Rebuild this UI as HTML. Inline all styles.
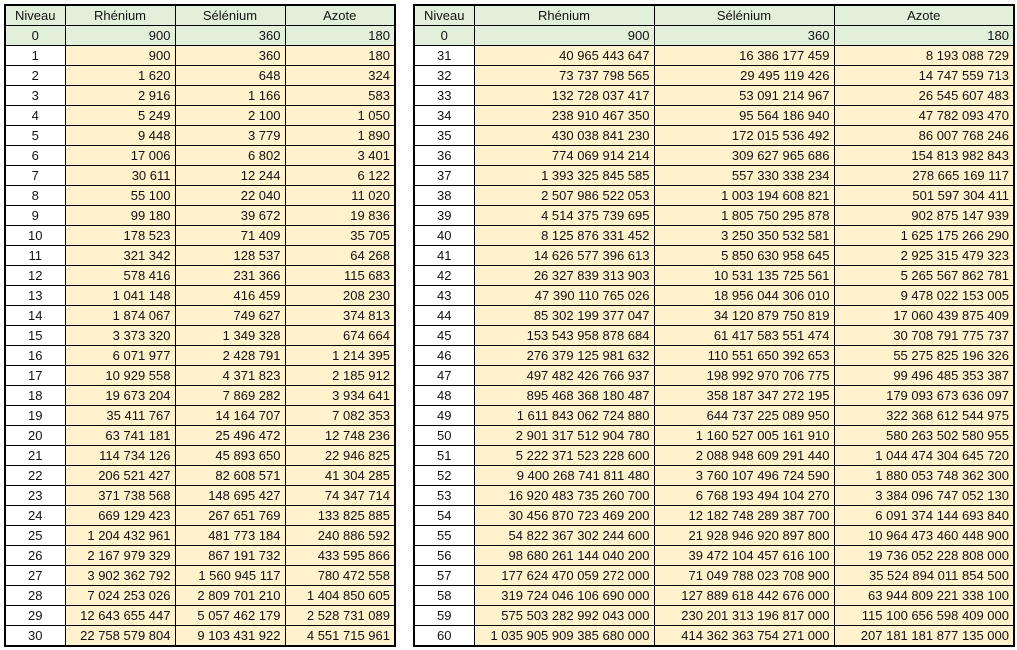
<!DOCTYPE html>
<html><head><meta charset="utf-8"><style>
body{margin:0;width:1017px;height:650px;background:#fff;position:relative;overflow:hidden;font-family:"Liberation Sans",sans-serif;font-size:13px;color:#111}
table{position:absolute;top:4px;border-collapse:collapse;table-layout:fixed;border:2px solid #000}
td{height:19px;padding:0 4px;border:1px solid #000;white-space:nowrap;text-align:right;background:#FFF2CC;line-height:19px;overflow:hidden}
td:first-child{text-align:center;background:#fff}
tr.h td{background:#E2EFDA;text-align:center}
tr.z td{background:#E2EFDA}
tr.z td:first-child{text-align:center}
</style></head><body>
<table style="left:4px;width:390px">
<colgroup><col style="width:60px"><col style="width:110px"><col style="width:110px"><col style="width:110px"></colgroup>
<tr class="h"><td>Niveau</td><td>Rhénium</td><td>Sélénium</td><td>Azote</td></tr>
<tr class="z"><td>0</td><td>900</td><td>360</td><td>180</td></tr>
<tr><td>1</td><td>900</td><td>360</td><td>180</td></tr>
<tr><td>2</td><td>1 620</td><td>648</td><td>324</td></tr>
<tr><td>3</td><td>2 916</td><td>1 166</td><td>583</td></tr>
<tr><td>4</td><td>5 249</td><td>2 100</td><td>1 050</td></tr>
<tr><td>5</td><td>9 448</td><td>3 779</td><td>1 890</td></tr>
<tr><td>6</td><td>17 006</td><td>6 802</td><td>3 401</td></tr>
<tr><td>7</td><td>30 611</td><td>12 244</td><td>6 122</td></tr>
<tr><td>8</td><td>55 100</td><td>22 040</td><td>11 020</td></tr>
<tr><td>9</td><td>99 180</td><td>39 672</td><td>19 836</td></tr>
<tr><td>10</td><td>178 523</td><td>71 409</td><td>35 705</td></tr>
<tr><td>11</td><td>321 342</td><td>128 537</td><td>64 268</td></tr>
<tr><td>12</td><td>578 416</td><td>231 366</td><td>115 683</td></tr>
<tr><td>13</td><td>1 041 148</td><td>416 459</td><td>208 230</td></tr>
<tr><td>14</td><td>1 874 067</td><td>749 627</td><td>374 813</td></tr>
<tr><td>15</td><td>3 373 320</td><td>1 349 328</td><td>674 664</td></tr>
<tr><td>16</td><td>6 071 977</td><td>2 428 791</td><td>1 214 395</td></tr>
<tr><td>17</td><td>10 929 558</td><td>4 371 823</td><td>2 185 912</td></tr>
<tr><td>18</td><td>19 673 204</td><td>7 869 282</td><td>3 934 641</td></tr>
<tr><td>19</td><td>35 411 767</td><td>14 164 707</td><td>7 082 353</td></tr>
<tr><td>20</td><td>63 741 181</td><td>25 496 472</td><td>12 748 236</td></tr>
<tr><td>21</td><td>114 734 126</td><td>45 893 650</td><td>22 946 825</td></tr>
<tr><td>22</td><td>206 521 427</td><td>82 608 571</td><td>41 304 285</td></tr>
<tr><td>23</td><td>371 738 568</td><td>148 695 427</td><td>74 347 714</td></tr>
<tr><td>24</td><td>669 129 423</td><td>267 651 769</td><td>133 825 885</td></tr>
<tr><td>25</td><td>1 204 432 961</td><td>481 773 184</td><td>240 886 592</td></tr>
<tr><td>26</td><td>2 167 979 329</td><td>867 191 732</td><td>433 595 866</td></tr>
<tr><td>27</td><td>3 902 362 792</td><td>1 560 945 117</td><td>780 472 558</td></tr>
<tr><td>28</td><td>7 024 253 026</td><td>2 809 701 210</td><td>1 404 850 605</td></tr>
<tr><td>29</td><td>12 643 655 447</td><td>5 057 462 179</td><td>2 528 731 089</td></tr>
<tr><td>30</td><td>22 758 579 804</td><td>9 103 431 922</td><td>4 551 715 961</td></tr>
</table>
<table style="left:413px;width:600px">
<colgroup><col style="width:60px"><col style="width:180px"><col style="width:180px"><col style="width:180px"></colgroup>
<tr class="h"><td>Niveau</td><td>Rhénium</td><td>Sélénium</td><td>Azote</td></tr>
<tr class="z"><td>0</td><td>900</td><td>360</td><td>180</td></tr>
<tr><td>31</td><td>40 965 443 647</td><td>16 386 177 459</td><td>8 193 088 729</td></tr>
<tr><td>32</td><td>73 737 798 565</td><td>29 495 119 426</td><td>14 747 559 713</td></tr>
<tr><td>33</td><td>132 728 037 417</td><td>53 091 214 967</td><td>26 545 607 483</td></tr>
<tr><td>34</td><td>238 910 467 350</td><td>95 564 186 940</td><td>47 782 093 470</td></tr>
<tr><td>35</td><td>430 038 841 230</td><td>172 015 536 492</td><td>86 007 768 246</td></tr>
<tr><td>36</td><td>774 069 914 214</td><td>309 627 965 686</td><td>154 813 982 843</td></tr>
<tr><td>37</td><td>1 393 325 845 585</td><td>557 330 338 234</td><td>278 665 169 117</td></tr>
<tr><td>38</td><td>2 507 986 522 053</td><td>1 003 194 608 821</td><td>501 597 304 411</td></tr>
<tr><td>39</td><td>4 514 375 739 695</td><td>1 805 750 295 878</td><td>902 875 147 939</td></tr>
<tr><td>40</td><td>8 125 876 331 452</td><td>3 250 350 532 581</td><td>1 625 175 266 290</td></tr>
<tr><td>41</td><td>14 626 577 396 613</td><td>5 850 630 958 645</td><td>2 925 315 479 323</td></tr>
<tr><td>42</td><td>26 327 839 313 903</td><td>10 531 135 725 561</td><td>5 265 567 862 781</td></tr>
<tr><td>43</td><td>47 390 110 765 026</td><td>18 956 044 306 010</td><td>9 478 022 153 005</td></tr>
<tr><td>44</td><td>85 302 199 377 047</td><td>34 120 879 750 819</td><td>17 060 439 875 409</td></tr>
<tr><td>45</td><td>153 543 958 878 684</td><td>61 417 583 551 474</td><td>30 708 791 775 737</td></tr>
<tr><td>46</td><td>276 379 125 981 632</td><td>110 551 650 392 653</td><td>55 275 825 196 326</td></tr>
<tr><td>47</td><td>497 482 426 766 937</td><td>198 992 970 706 775</td><td>99 496 485 353 387</td></tr>
<tr><td>48</td><td>895 468 368 180 487</td><td>358 187 347 272 195</td><td>179 093 673 636 097</td></tr>
<tr><td>49</td><td>1 611 843 062 724 880</td><td>644 737 225 089 950</td><td>322 368 612 544 975</td></tr>
<tr><td>50</td><td>2 901 317 512 904 780</td><td>1 160 527 005 161 910</td><td>580 263 502 580 955</td></tr>
<tr><td>51</td><td>5 222 371 523 228 600</td><td>2 088 948 609 291 440</td><td>1 044 474 304 645 720</td></tr>
<tr><td>52</td><td>9 400 268 741 811 480</td><td>3 760 107 496 724 590</td><td>1 880 053 748 362 300</td></tr>
<tr><td>53</td><td>16 920 483 735 260 700</td><td>6 768 193 494 104 270</td><td>3 384 096 747 052 130</td></tr>
<tr><td>54</td><td>30 456 870 723 469 200</td><td>12 182 748 289 387 700</td><td>6 091 374 144 693 840</td></tr>
<tr><td>55</td><td>54 822 367 302 244 600</td><td>21 928 946 920 897 800</td><td>10 964 473 460 448 900</td></tr>
<tr><td>56</td><td>98 680 261 144 040 200</td><td>39 472 104 457 616 100</td><td>19 736 052 228 808 000</td></tr>
<tr><td>57</td><td>177 624 470 059 272 000</td><td>71 049 788 023 708 900</td><td>35 524 894 011 854 500</td></tr>
<tr><td>58</td><td>319 724 046 106 690 000</td><td>127 889 618 442 676 000</td><td>63 944 809 221 338 100</td></tr>
<tr><td>59</td><td>575 503 282 992 043 000</td><td>230 201 313 196 817 000</td><td>115 100 656 598 409 000</td></tr>
<tr><td>60</td><td>1 035 905 909 385 680 000</td><td>414 362 363 754 271 000</td><td>207 181 181 877 135 000</td></tr>
</table>
</body></html>
